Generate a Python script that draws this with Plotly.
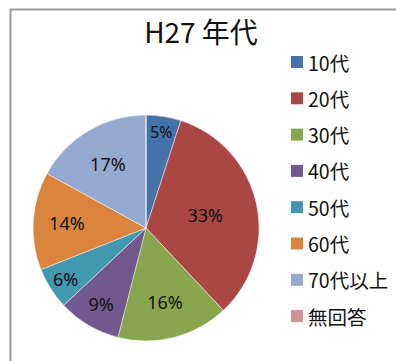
import plotly.graph_objects as go

# Age-group shares (H27 survey)
labels = ["10代", "20代", "30代", "40代", "50代", "60代", "70代以上", "無回答"]
shares = [5, 33, 16, 9, 6, 14, 17, 0]
colors = ["#4672AA", "#AA4644", "#89A64F", "#71588F",
          "#4198AF", "#DB843D", "#93A9CF", "#D19392"]
title_text = "H27 年代"

W, H = 396, 361

fig = go.Figure()
fig.add_trace(go.Pie(
    labels=labels,
    values=shares,
    sort=False,
    direction="clockwise",
    rotation=0,
    marker=dict(colors=colors, line=dict(color="rgba(255,255,255,0.6)", width=0.8)),
    texttemplate=[f"{v}%" if v > 0 else "" for v in shares],
    textinfo="text",
    textposition="inside",
    insidetextorientation="horizontal",
    textfont=dict(family="Noto Sans", size=18, color="#111111"),
    domain=dict(x=[33 / W, 259 / W], y=[1 - 341 / H, 1 - 115 / H]),
    showlegend=False,
    hoverinfo="label+percent",
))

# Legend drawn as swatch + label rows on the right
leg_top, leg_step = 62, 36.3
for i, (lab, col) in enumerate(zip(labels, colors)):
    yc = leg_top + i * leg_step
    fig.add_shape(type="rect", xref="paper", yref="paper",
                  x0=291 / W, x1=303 / W,
                  y0=1 - (yc + 6) / H, y1=1 - (yc - 6) / H,
                  fillcolor=col, line=dict(width=0))
    fig.add_annotation(xref="paper", yref="paper", x=305.5 / W, y=1 - yc / H,
                       xanchor="left", yanchor="middle", showarrow=False,
                       text=lab, font=dict(family="Noto Sans CJK JP", size=19.5, color="#111111"))

# Chart-area frame
fig.add_shape(type="rect", xref="paper", yref="paper",
              x0=10.5 / W, x1=1.05, y0=-0.05, y1=1 - 9.5 / H,
              line=dict(color="#9a9a9a", width=2), fillcolor="rgba(0,0,0,0)")

fig.update_layout(
    width=W, height=H,
    margin=dict(l=0, r=0, t=0, b=0),
    paper_bgcolor="white",
    plot_bgcolor="white",
    title=dict(text=title_text, x=201 / W, y=1 - 33 / H, xanchor="center", yanchor="middle",
               font=dict(family="Noto Sans CJK JP", size=28, color="#111111")),
)

fig.write_html("out.html")
